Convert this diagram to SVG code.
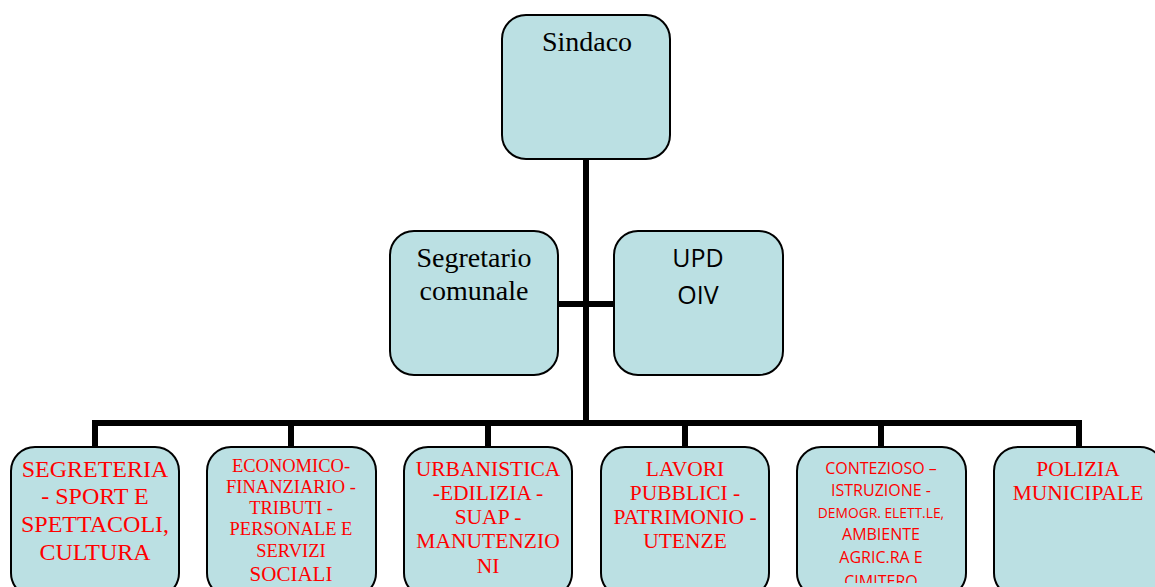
<svg xmlns="http://www.w3.org/2000/svg" width="1155" height="587" viewBox="0 0 1155 587">
<style>
.box{fill:#BBE0E3;stroke:#000;stroke-width:2}
.conn{stroke:#000;stroke-width:6;fill:none}
.serif{font-family:"Liberation Serif",serif;text-anchor:middle}
.sans{font-family:"Open Sans","Liberation Sans",sans-serif;text-anchor:middle}
.red{fill:#FF0000}
.blk{fill:#000}
</style>
<defs>
<clipPath id="c5"><rect x="797" y="447" width="169" height="136"/></clipPath>
</defs>
<rect width="1155" height="587" fill="#fff"/>
<g id="connectors">
<line class="conn" x1="586" y1="159" x2="586" y2="423"/>
<line class="conn" x1="558" y1="304" x2="614" y2="304"/>
<polyline class="conn" points="95,448 95,423 1079,423 1079,448"/>
<line class="conn" x1="291" y1="423" x2="291" y2="448"/>
<line class="conn" x1="488" y1="423" x2="488" y2="448"/>
<line class="conn" x1="685" y1="423" x2="685" y2="448"/>
<line class="conn" x1="881" y1="423" x2="881" y2="448"/>
</g>
<g id="sindaco">
<rect class="box" x="502" y="15" width="168" height="144" rx="24"/>
<text class="serif blk" x="587" y="51" font-size="28">Sindaco</text>
</g>
<g id="segretario">
<rect class="box" x="390" y="231" width="168" height="144" rx="24"/>
<text class="serif blk" x="474" y="267" font-size="28">Segretario</text>
<text class="serif blk" x="474" y="300" font-size="28">comunale</text>
</g>
<g id="upd">
<rect class="box" x="614" y="231" width="169" height="144" rx="24"/>
<text class="sans blk" x="698" y="267" font-size="25">UPD</text>
<text class="sans blk" x="698" y="304" font-size="25">OIV</text>
</g>
<g id="segreteria">
<rect class="box" x="11" y="447" width="168" height="150" rx="24"/>
<text class="serif red" x="95" y="477" font-size="24">SEGRETERIA</text>
<text class="serif red" x="95" y="504" font-size="24">- SPORT E</text>
<text class="serif red" x="95" y="532" font-size="24">SPETTACOLI,</text>
<text class="serif red" x="95" y="560" font-size="24">CULTURA</text>
</g>
<g id="economico">
<rect class="box" x="207" y="447" width="169" height="150" rx="24"/>
<text class="serif red" x="291" y="472" font-size="18.5">ECONOMICO-</text>
<text class="serif red" x="291" y="493" font-size="18.5">FINANZIARIO -</text>
<text class="serif red" x="291" y="514" font-size="18.5">TRIBUTI -</text>
<text class="serif red" x="291" y="535" font-size="18.5">PERSONALE E</text>
<text class="serif red" x="291" y="557" font-size="18.5">SERVIZI</text>
<text class="serif red" x="291" y="581" font-size="21">SOCIALI</text>
</g>
<g id="urbanistica">
<rect class="box" x="404" y="447" width="168" height="150" rx="24"/>
<text class="serif red" x="488" y="476" font-size="21.5">URBANISTICA</text>
<text class="serif red" x="488" y="500" font-size="21.5">-EDILIZIA -</text>
<text class="serif red" x="488" y="524" font-size="21.5">SUAP -</text>
<text class="serif red" x="488" y="548" font-size="21.5">MANUTENZIO</text>
<text class="serif red" x="488" y="573" font-size="21.5">NI</text>
</g>
<g id="lavori">
<rect class="box" x="601" y="447" width="168" height="150" rx="24"/>
<text class="serif red" x="685" y="476" font-size="21.5">LAVORI</text>
<text class="serif red" x="685" y="500" font-size="21.5">PUBBLICI -</text>
<text class="serif red" x="685" y="524" font-size="21.5">PATRIMONIO -</text>
<text class="serif red" x="685" y="548" font-size="21.5">UTENZE</text>
</g>
<g id="contezioso">
<rect class="box" x="797" y="447" width="169" height="150" rx="24"/>
<g clip-path="url(#c5)">
<text class="sans red" x="881" y="474" font-size="16">CONTEZIOSO –</text>
<text class="sans red" x="881" y="496" font-size="16">ISTRUZIONE -</text>
<text class="sans red" x="881" y="518" font-size="13.8">DEMOGR. ELETT.LE,</text>
<text class="sans red" x="881" y="540" font-size="16">AMBIENTE</text>
<text class="sans red" x="881" y="563" font-size="16">AGRIC.RA E</text>
<text class="sans red" x="881" y="587" font-size="16">CIMITERO</text>
</g>
</g>
<g id="polizia">
<rect class="box" x="994" y="447" width="170" height="150" rx="24"/>
<text class="serif red" x="1078" y="476" font-size="21.5">POLIZIA</text>
<text class="serif red" x="1078" y="500" font-size="21.5">MUNICIPALE</text>
</g>
</svg>
